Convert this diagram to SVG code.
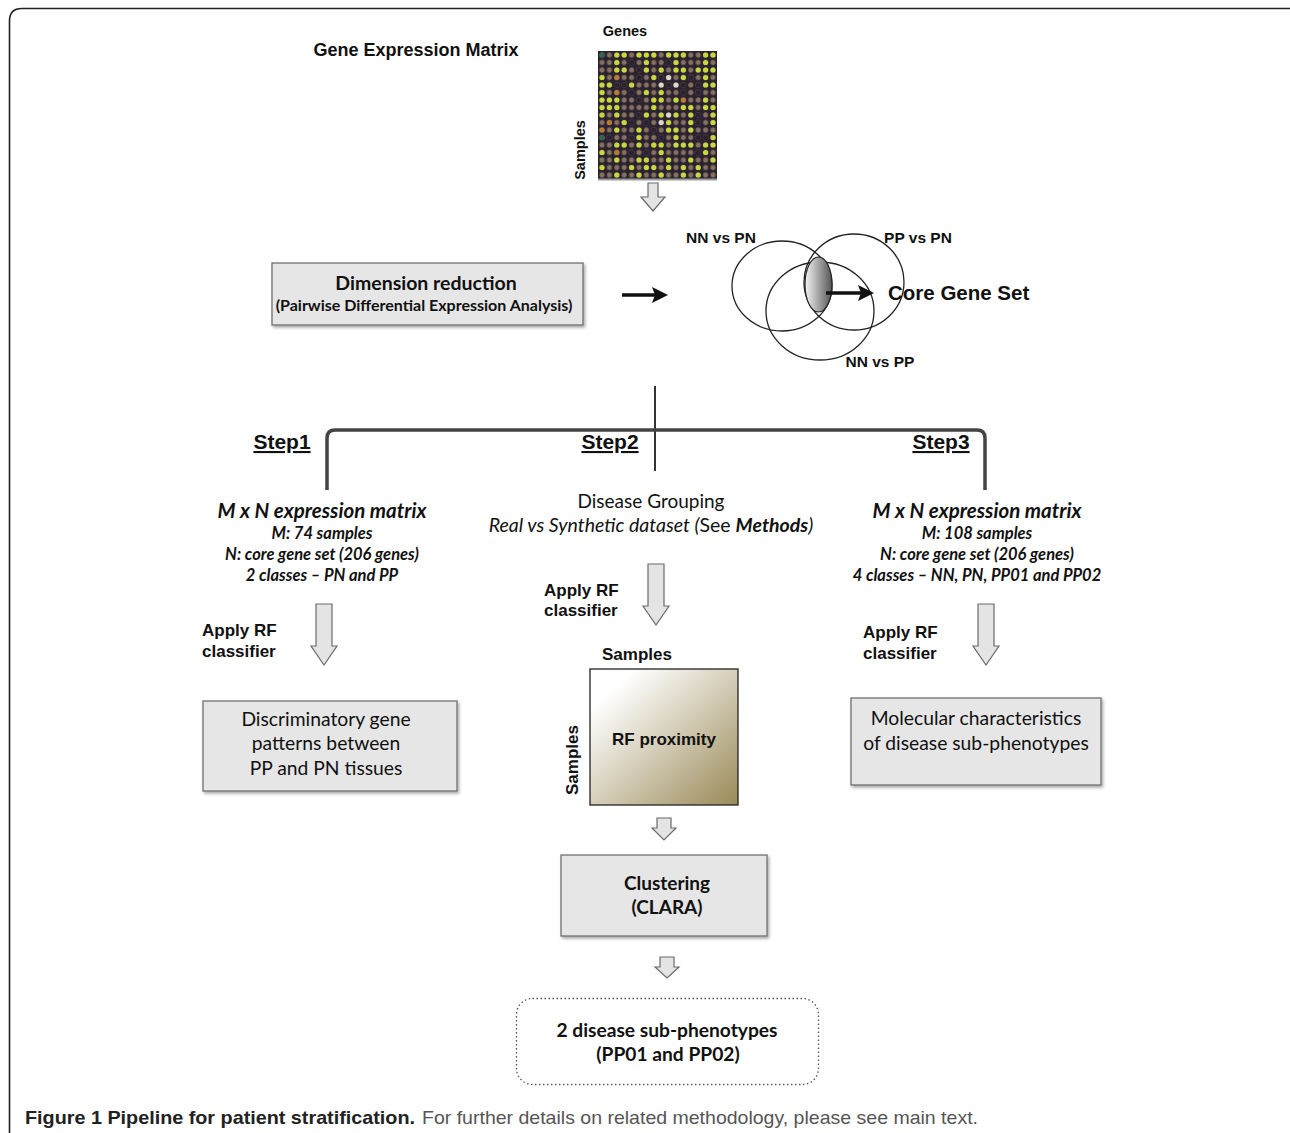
<svg xmlns="http://www.w3.org/2000/svg" width="1290" height="1133" viewBox="0 0 1290 1133">
<style>
.h{font-family:"Liberation Sans",Arial,sans-serif;font-weight:bold;fill:#111}
.c{font-family:Lato,"Open Sans",sans-serif;fill:#111}
.cb{font-family:Lato,"Open Sans",sans-serif;font-weight:bold;fill:#111}
.ci{font-family:Lato,"Open Sans",sans-serif;font-weight:bold;font-style:italic;fill:#111}
.box{fill:#e6e6e6;stroke:#707070;stroke-width:1.3;filter:url(#sh)}
.harrow{fill:#e4e4e4;stroke:#6a6a6a;stroke-width:1.2}
.mid{text-anchor:middle}
.dot{fill:none;stroke-linecap:round;stroke-width:5.2}
.venn{fill:none;stroke:#222;stroke-width:1.3}
</style>
<defs>
<filter id="sh" x="-10%" y="-10%" width="130%" height="140%"><feDropShadow dx="1.5" dy="2" stdDeviation="1.5" flood-color="#000" flood-opacity="0.35"/></filter>
<filter id="blur"><feGaussianBlur stdDeviation="0.6"/></filter>
<pattern id="grid" patternUnits="userSpaceOnUse" x="598.3" y="51.25" width="7.4" height="7.5"><circle cx="3.7" cy="3.75" r="2.5" fill="#86705f"/></pattern>
<linearGradient id="prox" x1="0" y1="0" x2="1" y2="1"><stop offset="0.15" stop-color="#ffffff"/><stop offset="1" stop-color="#9a8a58"/></linearGradient>
<linearGradient id="core" x1="0" y1="0" x2="1" y2="0"><stop offset="0" stop-color="#f4f4f4"/><stop offset="1" stop-color="#555"/></linearGradient>
</defs>
<rect width="1290" height="1133" fill="#fff"/>
<path d="M9.5 1133 V21 Q9.5 8.5 22 8.5 H1290" fill="none" stroke="#222" stroke-width="1.6"/>

<g id="matrix">
<text class="h" x="416" y="56" font-size="18" text-anchor="middle">Gene Expression Matrix</text>
<text class="h" x="625" y="36" font-size="14.5" text-anchor="middle">Genes</text>
<text class="h" font-size="14.5" text-anchor="middle" transform="translate(585 150) rotate(-90)">Samples</text>
<rect x="598" y="51" width="119" height="129" fill="#2b2230"/>
<g filter="url(#blur)">
<rect x="598" y="51" width="119" height="129" fill="url(#grid)"/>
<path class="dot" stroke="#c6d83a" d="M616.8 55h0M624.2 55h0M639 55h0M646.4 55h0M653.8 55h0M668.6 55h0M676 55h0M683.4 55h0M705.6 55h0M713 55h0M616.8 62.5h0M646.4 62.5h0M676 62.5h0M705.6 62.5h0M616.8 70h0M624.2 70h0M646.4 70h0M661.2 70h0M676 70h0M683.4 70h0M698.2 70h0M705.6 70h0M713 70h0M602 77.5h0M653.8 77.5h0M683.4 77.5h0M705.6 77.5h0M602 85h0M609.4 85h0M631.6 85h0M705.6 85h0M713 85h0M602 92.5h0M646.4 92.5h0M661.2 92.5h0M602 100h0M609.4 100h0M616.8 100h0M653.8 100h0M661.2 100h0M676 100h0M705.6 100h0M602 107.5h0M609.4 107.5h0M616.8 107.5h0M653.8 107.5h0M683.4 107.5h0M690.8 107.5h0M705.6 107.5h0M713 107.5h0M602 115h0M616.8 115h0M646.4 115h0M661.2 115h0M676 115h0M690.8 115h0M713 115h0M624.2 122.5h0M668.6 122.5h0M690.8 122.5h0M713 122.5h0M616.8 130h0M639 130h0M668.6 130h0M676 130h0M690.8 130h0M639 137.5h0M676 137.5h0M713 137.5h0M616.8 145h0M624.2 145h0M639 145h0M653.8 145h0M661.2 145h0M676 145h0M683.4 145h0M690.8 145h0M705.6 145h0M713 145h0M602 152.5h0M661.2 152.5h0M705.6 152.5h0M616.8 160h0M639 160h0M646.4 160h0M668.6 160h0M690.8 160h0M713 160h0M602 167.5h0M631.6 167.5h0M646.4 167.5h0M653.8 167.5h0M668.6 167.5h0M683.4 167.5h0M698.2 167.5h0M616.8 175h0M639 175h0M661.2 175h0M683.4 175h0M698.2 175h0"/>
<path class="dot" stroke="#b87a35" d="M616.8 77.5h0M616.8 92.5h0M609.4 122.5h0M616.8 152.5h0M602 130h0M683.4 100h0"/>
<path class="dot" stroke="#ddd5c8" d="M668.6 77.5h0M661.2 85h0M676 85h0M668.6 115h0M661.2 122.5h0"/>
<path class="dot" stroke="#2f6a4a" d="M602 55h0M602 137.5h0"/>
<path class="dot" stroke="#2b2230" stroke-width="5.6" d="M631.6 62.5h0M668.6 62.5h0M639 70h0M639 77.5h0M661.2 77.5h0M690.8 77.5h0M616.8 85h0M624.2 85h0M668.6 85h0M683.4 85h0M698.2 85h0M631.6 92.5h0M683.4 92.5h0M698.2 92.5h0M639 100h0M639 115h0M698.2 115h0M631.6 122.5h0M646.4 122.5h0M698.2 122.5h0M653.8 130h0M609.4 137.5h0M631.6 137.5h0M661.2 137.5h0M698.2 137.5h0M705.6 137.5h0M631.6 152.5h0M646.4 152.5h0M698.2 152.5h0"/>
</g>
<rect x="598" y="178.5" width="119" height="2" fill="#9a9a9a"/>
</g>

<g id="dimred">
<rect class="box" x="272" y="263" width="311" height="62"/>
<text class="cb mid" x="426" y="290" font-size="19.5">Dimension reduction</text>
<text class="cb mid" x="424" y="311" font-size="16">(Pairwise Differential Expression Analysis)</text>
</g>

<g id="venn">
<ellipse class="venn" cx="782" cy="286" rx="50" ry="45"/>
<ellipse class="venn" cx="854" cy="282" rx="50" ry="48"/>
<ellipse class="venn" cx="820" cy="311" rx="54" ry="49"/>
<ellipse cx="818.5" cy="284.5" rx="13.5" ry="27.5" fill="url(#core)" stroke="#222" stroke-width="1.2"/>
<text class="h" x="721" y="243" font-size="15.5" text-anchor="middle">NN vs PN</text>
<text class="h" x="918" y="243" font-size="15.5" text-anchor="middle">PP vs PN</text>
<text class="h" x="880" y="367" font-size="15.5" text-anchor="middle">NN vs PP</text>
<text class="h" x="888" y="300" font-size="20.5">Core Gene Set</text>
</g>

<g id="step1">
<text class="h" x="282" y="449" font-size="21" text-anchor="middle" text-decoration="underline">Step1</text>
<text class="ci mid" x="322" y="518" font-size="20.5">M x N expression matrix</text>
<text class="ci mid" x="322" y="539" font-size="16.5">M: 74 samples</text>
<text class="ci mid" x="322" y="560" font-size="16.5">N: core gene set (206 genes)</text>
<text class="ci mid" x="322" y="581" font-size="16.5">2 classes – PN and PP</text>
<text class="h" x="202" y="636" font-size="17">Apply RF</text>
<text class="h" x="202" y="657" font-size="17">classifier</text>
</g>
<g id="disc">
<rect class="box" x="203" y="701" width="254" height="90"/>
<text class="c mid" x="326" y="726" font-size="19.3">Discriminatory gene</text>
<text class="c mid" x="326" y="750" font-size="19.3">patterns between</text>
<text class="c mid" x="326" y="775" font-size="19.3">PP and PN tissues</text>
</g>

<g id="step2">
<text class="h" x="610" y="449" font-size="21" text-anchor="middle" text-decoration="underline">Step2</text>
<text class="c mid" x="651" y="508" font-size="19">Disease Grouping</text>
<text class="c mid" x="651" y="532" font-size="19.5"><tspan font-style="italic">Real vs Synthetic dataset (</tspan>See <tspan font-weight="bold" font-style="italic">Methods</tspan><tspan font-style="italic">)</tspan></text>
<text class="h" x="544" y="596" font-size="17">Apply RF</text>
<text class="h" x="544" y="616" font-size="17">classifier</text>
</g>
<g id="proximity">
<text class="h" x="637" y="660" font-size="17" text-anchor="middle">Samples</text>
<text class="h" font-size="17" text-anchor="middle" transform="translate(578 760) rotate(-90)">Samples</text>
<rect x="590" y="669" width="148" height="136" fill="url(#prox)" stroke="#222" stroke-width="1.3"/>
<text class="h" x="664" y="745" font-size="17" text-anchor="middle">RF proximity</text>
</g>
<g id="clustering">
<rect class="box" x="561" y="855" width="206" height="81"/>
<text class="cb mid" x="667" y="890" font-size="19">Clustering</text>
<text class="cb mid" x="667" y="914" font-size="19">(CLARA)</text>
</g>
<g id="subphen">
<rect x="516.5" y="998.5" width="302" height="86" rx="16" fill="#fff" stroke="#555" stroke-width="1.3" stroke-dasharray="1.5 2.5"/>
<text class="cb mid" x="667" y="1037" font-size="19.2">2 disease sub-phenotypes</text>
<text class="cb mid" x="668" y="1061" font-size="19.2">(PP01 and PP02)</text>
</g>

<g id="step3">
<text class="h" x="941" y="449" font-size="21" text-anchor="middle" text-decoration="underline">Step3</text>
<text class="ci mid" x="977" y="518" font-size="20.5">M x N expression matrix</text>
<text class="ci mid" x="977" y="539" font-size="16.5">M: 108 samples</text>
<text class="ci mid" x="977" y="560" font-size="16.5">N: core gene set (206 genes)</text>
<text class="ci mid" x="977" y="581" font-size="16.5">4 classes – NN, PN, PP01 and PP02</text>
<text class="h" x="863" y="638" font-size="17">Apply RF</text>
<text class="h" x="863" y="659" font-size="17">classifier</text>
</g>
<g id="molec">
<rect class="box" x="851" y="698" width="250" height="87"/>
<text class="c mid" x="976" y="725" font-size="19.3">Molecular characteristics</text>
<text class="c mid" x="976" y="750" font-size="19.3">of disease sub-phenotypes</text>
</g>

<g id="connectors">
<polygon class="harrow" points="648,183 658,183 658,197 665,197 653,211 641,197 648,197"/>
<line x1="622" y1="295" x2="656" y2="295" stroke="#111" stroke-width="3.5"/>
<polygon points="668,295 652,287 655,295 652,303" fill="#111"/>
<line x1="826" y1="293" x2="862" y2="293" stroke="#111" stroke-width="3.5"/>
<polygon points="874,293 858,285 861,293 858,301" fill="#111"/>
<line x1="655" y1="386" x2="655" y2="471" stroke="#333" stroke-width="2"/>
<path d="M327 490 V438 Q327 430 335 430 H977 Q985 430 985 438 V490" fill="none" stroke="#444" stroke-width="3.5"/>
<polygon class="harrow" points="316,604 332,604 332,646 337,646 324,665 311,646 316,646"/>
<polygon class="harrow" points="648,564 664,564 664,606 669,606 656,625 643,606 648,606"/>
<polygon class="harrow" points="978,604 994,604 994,646 999,646 986,665 973,646 978,646"/>
<polygon class="harrow" points="657,818 671,818 671,828 676,828 664,840 652,828 657,828"/>
<polygon class="harrow" points="660,957 674,957 674,967 679,967 667,978 655,967 660,967"/>
</g>

<g id="caption">
<text x="25" y="1124" font-size="19" font-family="'Liberation Sans Narrow','Liberation Sans',sans-serif"><tspan font-weight="bold" fill="#222" textLength="390" lengthAdjust="spacingAndGlyphs">Figure 1 Pipeline for patient stratification.</tspan><tspan x="422" fill="#555" textLength="556" lengthAdjust="spacingAndGlyphs">For further details on related methodology, please see main text.</tspan></text>
</g>
</svg>
